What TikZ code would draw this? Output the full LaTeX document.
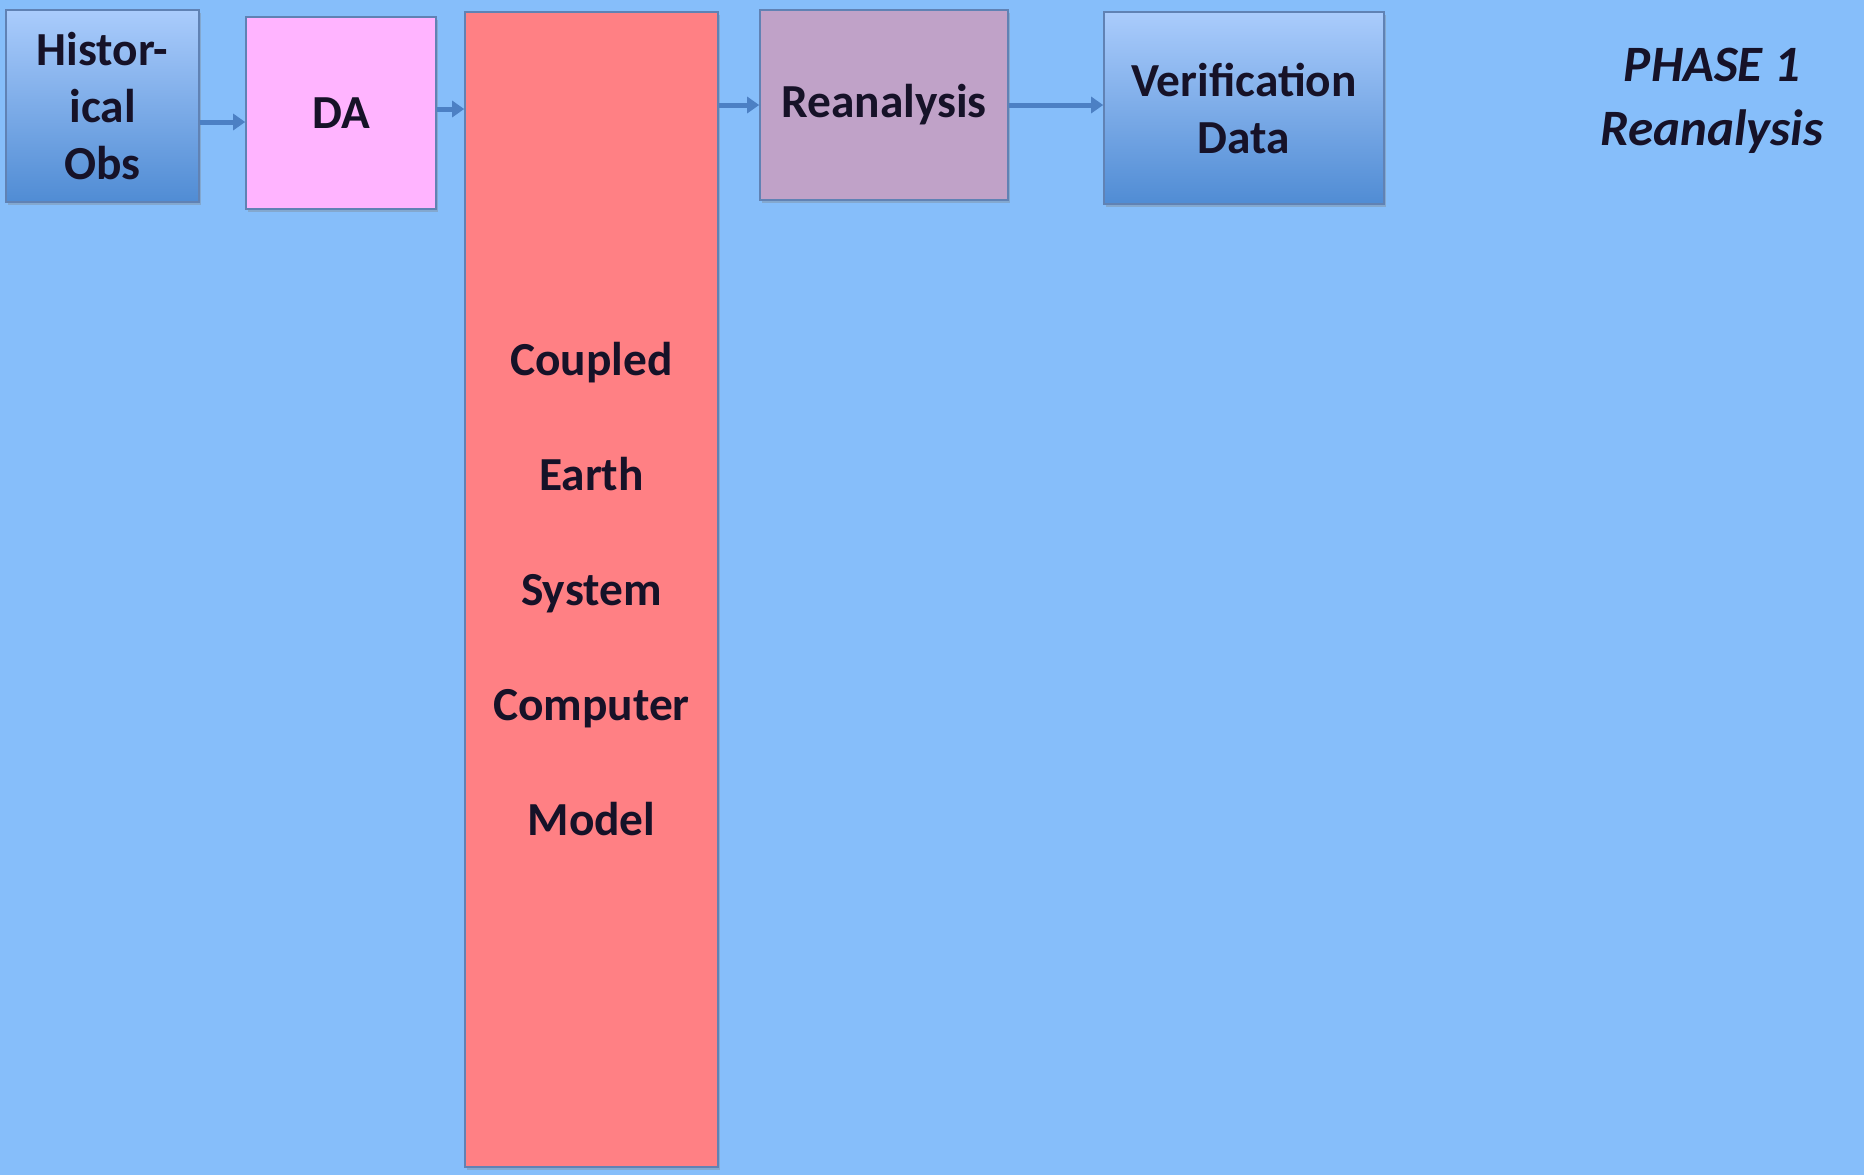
\documentclass[tikz,border=0pt]{standalone}
\usepackage{fontspec}
\setmainfont{Carlito}
\usetikzlibrary{arrows.meta,shadows}
\definecolor{slidebg}{RGB}{134,190,250}
\definecolor{obstop}{RGB}{170,204,252}
\definecolor{obsbot}{RGB}{80,140,212}
\definecolor{dapink}{RGB}{255,180,255}
\definecolor{modelred}{RGB}{255,128,132}
\definecolor{reanmauve}{RGB}{192,162,200}
\definecolor{edgeblue}{RGB}{96,130,180}
\definecolor{arrowblue}{RGB}{76,128,196}
\definecolor{inktext}{RGB}{22,18,40}
\begin{document}
\begin{tikzpicture}[x=0.5pt, y=-0.5pt,
    box/.style = {draw=edgeblue, line width=0.8pt, inner sep=0pt, text=inktext, align=center,
                  font=\bfseries\fontsize{23.7}{28.5}\selectfont,
                  drop shadow={shadow xshift=1.2pt, shadow yshift=-1.6pt, opacity=0.35}},
    bluebox/.style = {box, top color=obstop, bottom color=obsbot},
    flow/.style = {draw=arrowblue, line width=2.5pt, -{Triangle[length=6pt, width=8pt]}}]
  \fill[slidebg] (0,0) rectangle (1864,1175);
  \useasboundingbox (0,0) rectangle (1864,1175);

  \node[bluebox, minimum width=96.5pt, minimum height=96pt] (hist) at (102.5,106) {Histor-\\ical\\Obs};
  \node[box, fill=dapink, minimum width=95pt, minimum height=96pt] (da) at (341,113) {DA};
  \node[box, fill=modelred, minimum width=126.5pt, minimum height=577.5pt,
        font=\bfseries\fontsize{23.7}{57.5}\selectfont] (model) at (591.5,589.5)
        {Coupled\\Earth\\System\\Computer\\Model};
  \node[box, fill=reanmauve, minimum width=124pt, minimum height=95pt] (rean) at (884,105) {Reanalysis};
  \node[bluebox, minimum width=140pt, minimum height=96pt] (verif) at (1244,108) {Verification\\Data};
  \node[text=inktext, align=center, font=\bfseries\itshape\fontsize{25.5}{32}\selectfont] (phase) at (1712,101)
        {PHASE 1\\Reanalysis};

  \draw[flow] ([yshift=-8pt]hist.east) -- ([yshift=-8pt]hist.east -| da.west);
  \draw[flow] ([yshift=2pt]da.east) -- ([yshift=2pt]da.east -| model.west);
  \draw[flow] (model.east |- rean.west) -- (rean.west);
  \draw[flow] (rean.east) -- (rean.east -| verif.west);
\end{tikzpicture}
\end{document}
